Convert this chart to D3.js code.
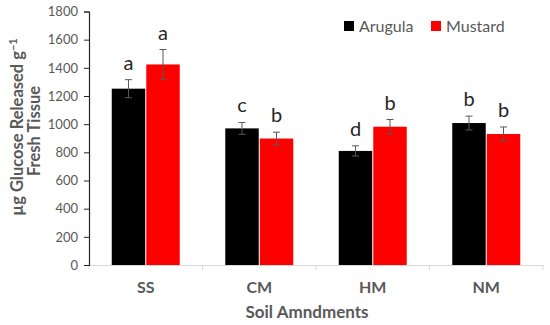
<!DOCTYPE html>
<html>
<head>
<meta charset="utf-8">
<script src="https://cdn.jsdelivr.net/npm/d3@7"></script>
<style>
  body { margin: 0; background: #fff; }
  svg { display: block; font-family: Lato, "Open Sans", sans-serif; }
</style>
</head>
<body>
<svg id="chart" width="550" height="325"></svg>
<script>
const categories = ['SS', 'CM', 'HM', 'NM'];
const series = ['Arugula', 'Mustard'];
const arugula = [1252, 970, 810, 1008];
const mustard = [1424, 898, 982, 930];
const arugulaErr = [64, 42, 36, 49];
const mustardErr = [106, 45, 51, 50];
const arugulaLetters = ['a', 'c', 'd', 'b'];
const mustardLetters = ['a', 'b', 'b', 'b'];
const yTicks = [0, 200, 400, 600, 800, 1000, 1200, 1400, 1600, 1800];

const colors = { Arugula: '#000000', Mustard: '#ff0000' };

const svg = d3.select('#chart');
const plotLeft = 89, plotRight = 543, plotTop = 11.5, plotBottom = 265;

const rows = [];
categories.forEach((c, i) => {
  rows.push({ cat: c, s: 'Arugula', v: arugula[i], e: arugulaErr[i], l: arugulaLetters[i] });
  rows.push({ cat: c, s: 'Mustard', v: mustard[i], e: mustardErr[i], l: mustardLetters[i] });
});

const x0 = d3.scaleBand().domain(categories).range([plotLeft, plotRight]);
const groupW = 68;
const x1 = d3.scaleBand().domain(series).range([0, groupW]).paddingInner(0.03);
const y = d3.scaleLinear().domain([0, 1800]).range([plotBottom, plotTop]);
const off = (x0.bandwidth() - groupW) / 2;

// x axis
const xAxis = svg.append('g')
  .attr('transform', 'translate(0,' + plotBottom + ')')
  .call(d3.axisBottom(x0).tickSize(0).tickFormat(''));
xAxis.select('.domain').attr('stroke', '#d9d9d9').attr('stroke-width', 1);
svg.append('g')
  .selectAll('line')
  .data(categories.concat(['end']))
  .enter()
  .append('line')
  .attr('x1', (d, i) => i < categories.length ? x0(d) : plotRight)
  .attr('x2', (d, i) => i < categories.length ? x0(d) : plotRight)
  .attr('y1', plotBottom)
  .attr('y2', plotBottom + 5)
  .attr('stroke', '#d9d9d9');

// category labels
svg.append('g')
  .selectAll('text')
  .data(categories)
  .enter()
  .append('text')
  .attr('x', (d) => x0(d) + x0.bandwidth() / 2)
  .attr('y', 293)
  .attr('text-anchor', 'middle')
  .attr('font-size', '16px')
  .attr('font-weight', 'bold')
  .attr('fill', '#595959')
  .text((d) => d);

// y axis
const yAxis = svg.append('g')
  .attr('transform', 'translate(' + plotLeft + ',0)')
  .call(d3.axisLeft(y).tickValues(yTicks).tickFormat(d3.format('d')).tickSize(5).tickPadding(6));
yAxis.select('.domain').attr('stroke', '#262626').attr('stroke-width', 1.2);
yAxis.selectAll('.tick line').attr('stroke', '#262626');
yAxis.selectAll('.tick text')
  .attr('fill', '#595959')
  .attr('font-size', '13px')
  .attr('font-family', 'Lato, "Open Sans", sans-serif');

// bars
const g = svg.append('g');
g.selectAll('.bar')
  .data(rows)
  .enter()
  .append('rect')
  .attr('class', 'bar')
  .attr('x', (d) => x0(d.cat) + off + x1(d.s))
  .attr('width', x1.bandwidth())
  .attr('y', (d) => y(d.v))
  .attr('height', (d) => plotBottom - y(d.v))
  .attr('fill', (d) => colors[d.s]);

// error bars
const eb = g.selectAll('.err')
  .data(rows)
  .enter()
  .append('g')
  .attr('class', 'err')
  .attr('stroke', '#595959')
  .attr('stroke-width', 1);
const cx = (d) => x0(d.cat) + off + x1(d.s) + x1.bandwidth() / 2;
eb.append('line')
  .attr('x1', cx).attr('x2', cx)
  .attr('y1', (d) => y(d.v + d.e))
  .attr('y2', (d) => y(d.v - d.e));
eb.append('line')
  .attr('x1', (d) => cx(d) - 3.5).attr('x2', (d) => cx(d) + 3.5)
  .attr('y1', (d) => y(d.v + d.e)).attr('y2', (d) => y(d.v + d.e));
eb.append('line')
  .attr('x1', (d) => cx(d) - 3.5).attr('x2', (d) => cx(d) + 3.5)
  .attr('y1', (d) => y(d.v - d.e)).attr('y2', (d) => y(d.v - d.e));

// significance letters
g.selectAll('.letter')
  .data(rows)
  .enter()
  .append('text')
  .attr('class', 'letter')
  .attr('x', cx)
  .attr('y', (d) => y(d.v + d.e) - 10)
  .attr('text-anchor', 'middle')
  .attr('font-size', '20px')
  .attr('fill', '#262626')
  .text((d) => d.l);

// axis titles
svg.append('text')
  .attr('x', 307)
  .attr('y', 318)
  .attr('text-anchor', 'middle')
  .attr('font-size', '17px')
  .attr('font-weight', 'bold')
  .attr('fill', '#595959')
  .text('Soil Amndments');

const yTitle = svg.append('text')
  .attr('transform', 'translate(23,127) rotate(-90)')
  .attr('text-anchor', 'middle')
  .attr('font-size', '16.5px')
  .attr('font-weight', 'bold')
  .attr('fill', '#595959');
yTitle.append('tspan').text('µg Glucose Released g');
yTitle.append('tspan').attr('dy', '-6').attr('font-size', '11px').text('−1');
svg.append('text')
  .attr('transform', 'translate(40,131) rotate(-90)')
  .attr('text-anchor', 'middle')
  .attr('font-size', '16.5px')
  .attr('font-weight', 'bold')
  .attr('fill', '#595959')
  .text('Fresh Tissue');

// legend
const legendX = [344, 431];
const legend = svg.append('g')
  .selectAll('g')
  .data(series)
  .enter()
  .append('g')
  .attr('transform', (d, i) => 'translate(' + legendX[i] + ',21)');
legend.append('rect')
  .attr('width', 10)
  .attr('height', 10)
  .attr('fill', (d) => colors[d]);
legend.append('text')
  .attr('x', 15)
  .attr('y', 11)
  .attr('font-size', '16px')
  .attr('fill', '#595959')
  .text((d) => d);
</script>
</body>
</html>
